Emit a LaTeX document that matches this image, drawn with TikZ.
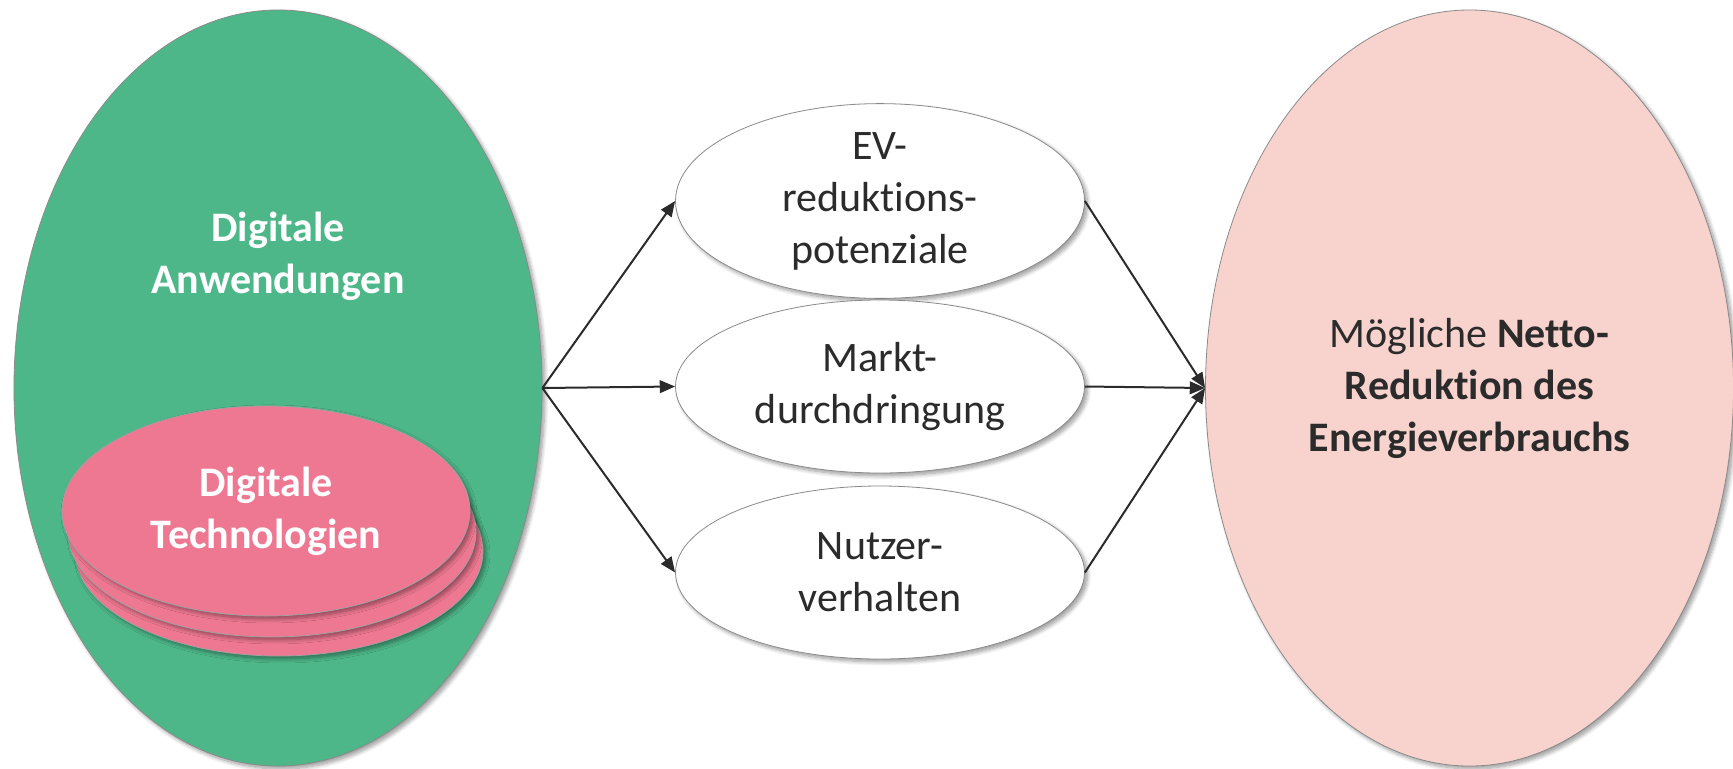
\documentclass[tikz,border=0pt]{standalone}
\usepackage{fontspec}
\setmainfont{Carlito}[Ligatures={NoCommon,NoRequired,NoContextual}]
\usetikzlibrary{shapes.geometric,arrows.meta,shadows.blur}
\definecolor{appgreen}{HTML}{4EB789}
\definecolor{techpink}{HTML}{EE7891}
\definecolor{goalpink}{HTML}{F8D3CE}
\definecolor{edgegray}{HTML}{8A8A8A}
\definecolor{txtgray}{HTML}{2B2B2B}
\tikzset{
  softshadow/.style={blur shadow={shadow xshift=2.2pt, shadow yshift=-2.2pt, shadow blur radius=3pt, shadow blur steps=8, shadow opacity=40}},
  bigoval/.style={ellipse, draw=edgegray, line width=0.6pt, minimum width=396pt, minimum height=567pt, inner sep=0pt, softshadow},
  disc/.style={ellipse, draw=edgegray!80, line width=0.6pt, fill=techpink, minimum width=306pt, minimum height=157.5pt, inner sep=0pt, softshadow},
  midoval/.style={ellipse, draw=edgegray, line width=0.6pt, fill=white, minimum width=306.75pt, minimum height=129.75pt, inner sep=0pt, softshadow, align=center, text=txtgray},
  bigtext/.style={font=\fontsize{31.5}{39}\selectfont},
  arr/.style={draw=txtgray, line width=1.5pt, -{Triangle[length=11.5pt, width=9.5pt]}}
}
\begin{document}
\begin{tikzpicture}[x=0.75pt, y=-0.75pt]
\useasboundingbox (0,0) rectangle (1733,768);
% left: applications
\node[bigoval, fill=appgreen] (apps) at (278,388) {};
\node[text=white, align=center, font=\fontsize{31.5}{39}\selectfont\bfseries] (appstxt) at (278,256) {Digitale\\Anwendungen};
% technology stack
\node[disc] (tech3) at (279,551) {};
\node[disc] (tech2) at (272,532) {};
\node[disc, align=center, text=white, font=\fontsize{31.5}{39}\selectfont\bfseries] (tech1) at (266,511) {Digitale\\Technologien};
% middle factors
\node[midoval, bigtext] (ev) at (880,201) {EV-\\reduktions-\\potenziale};
\node[midoval, bigtext] (markt) at (880,386.5) {Markt-\\durchdringung};
\node[midoval, bigtext] (nutzer) at (880,572.5) {Nutzer-\\verhalten};
% right: result
\node[bigoval, fill=goalpink, align=center, text=txtgray, bigtext] (goal) at (1469.5,388) {Mögliche \textbf{Netto-}\\\textbf{Reduktion des}\\\textbf{Energieverbrauchs}};
% connectors
\draw[arr] (apps.east) -- (ev.west);
\draw[arr] (apps.east) -- (markt.west);
\draw[arr] (apps.east) -- (nutzer.west);
\draw[arr] (ev.east) -- (goal.west);
\draw[arr] (markt.east) -- (goal.west);
\draw[arr] (nutzer.east) -- (goal.west);
\end{tikzpicture}
\end{document}
